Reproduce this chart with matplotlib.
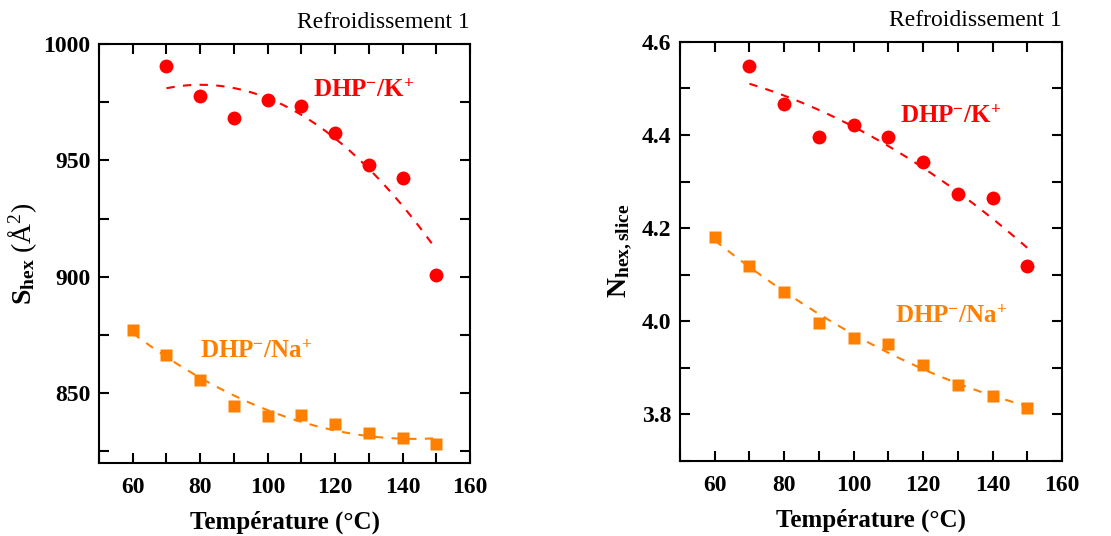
import numpy as np
import matplotlib.pyplot as plt
from matplotlib.ticker import MultipleLocator

plt.rcParams['font.family'] = ['Liberation Serif', 'DejaVu Serif']
plt.rcParams['mathtext.fontset'] = 'custom'
plt.rcParams['mathtext.rm'] = 'Liberation Serif'
plt.rcParams['mathtext.bf'] = 'Liberation Serif:bold'
plt.rcParams['mathtext.it'] = 'Liberation Serif:italic'

# data
t_k = [70, 80, 90, 100, 110, 120, 130, 140, 150]
t_na = [60, 70, 80, 90, 100, 110, 120, 130, 140, 150]
s_k = [990.6, 977.8, 968.0, 976.0, 973.4, 961.8, 947.9, 942.6, 900.6]
s_na = [877.3, 866.6, 855.7, 844.6, 840.3, 840.7, 836.7, 833.1, 830.9, 828.3]
n_k = [4.548, 4.466, 4.396, 4.421, 4.396, 4.342, 4.273, 4.265, 4.119]
n_na = [4.180, 4.118, 4.062, 3.996, 3.964, 3.951, 3.907, 3.864, 3.840, 3.813]

red = '#ff0000'
orange = '#ff8000'

def fit(x, y):
    p = np.polyfit(x, y, 2)
    xx = np.linspace(min(x), max(x), 200)
    return xx, np.polyval(p, xx)

def style(ax, ymaj, ymin):
    ax.set_xlim(50, 160)
    ax.xaxis.set_major_locator(MultipleLocator(20))
    ax.xaxis.set_minor_locator(MultipleLocator(10))
    ax.yaxis.set_major_locator(MultipleLocator(ymaj))
    ax.yaxis.set_minor_locator(MultipleLocator(ymin))
    ax.tick_params(which='both', direction='in', top=True, right=True, width=1.5)
    ax.tick_params(which='major', length=7, labelsize=17)
    ax.tick_params(axis='x', which='major', pad=10)
    ax.tick_params(axis='y', which='major', pad=6)
    ax.tick_params(which='minor', length=7)
    for sp in ax.spines.values():
        sp.set_linewidth(1.5)
    ax.set_xlabel('Température (°C)', fontsize=18, fontweight='bold', labelpad=9)
    ax.text(1.0, 1.025, 'Refroidissement 1', transform=ax.transAxes,
            ha='right', va='bottom', fontsize=17)

fig = plt.figure(figsize=(11.11, 5.36), dpi=100)
ax1 = fig.add_axes([0.0891, 0.136, 0.334, 0.782])
ax2 = fig.add_axes([0.612, 0.140, 0.344, 0.782])

# left panel
ax1.plot(*fit(t_k, s_k), '--', color=red, lw=1.5, dashes=(4, 4))
ax1.plot(*fit(t_na, s_na), '--', color=orange, lw=1.5, dashes=(4, 4))
ax1.plot(t_k, s_k, 'o', color=red, ms=10, mec='none')
ax1.plot(t_na, s_na, 's', color=orange, ms=9, mec='none')
ax1.set_ylim(820, 1000)
style(ax1, 50, 25)
ax1.set_ylabel(r'$\mathbf{S_{hex}}$ $(\mathrm{\AA}^2)$', fontsize=20, labelpad=3)
ax1.text(113.5, 980, r'$\mathbf{DHP^{-}/K^{+}}$', color=red, fontsize=18, va='center')
ax1.text(80, 868, r'$\mathbf{DHP^{-}/Na^{+}}$', color=orange, fontsize=18, va='center')

# right panel
ax2.plot(*fit(t_k, n_k), '--', color=red, lw=1.5, dashes=(4, 4))
ax2.plot(*fit(t_na, n_na), '--', color=orange, lw=1.5, dashes=(4, 4))
ax2.plot(t_k, n_k, 'o', color=red, ms=10, mec='none')
ax2.plot(t_na, n_na, 's', color=orange, ms=9, mec='none')
ax2.set_ylim(3.7, 4.6)
style(ax2, 0.2, 0.1)
ax2.yaxis.set_major_formatter(plt.FormatStrFormatter('%.1f'))
ax2.set_ylabel(r'$\mathbf{N_{hex,slice}}$', fontsize=20, labelpad=6)
ax2.text(113.4, 4.44, r'$\mathbf{DHP^{-}/K^{+}}$', color=red, fontsize=18, va='center')
ax2.text(112, 4.01, r'$\mathbf{DHP^{-}/Na^{+}}$', color=orange, fontsize=18, va='center')

for ax in (ax1, ax2):
    for lb in ax.get_xticklabels() + ax.get_yticklabels():
        lb.set_fontweight('bold')

fig.savefig('out.png', dpi=100)
